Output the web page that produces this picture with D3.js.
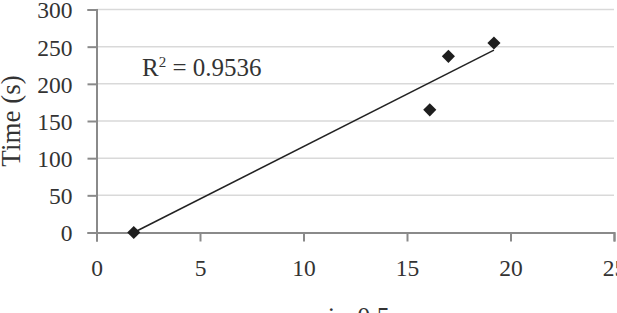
<!DOCTYPE html>
<html>
<head>
<meta charset="utf-8">
<script src="https://cdn.jsdelivr.net/npm/d3@7"></script>
<style>
  body { margin: 0; background: #fff; }
  svg { display: block; font-family: "Liberation Serif", "Times New Roman", serif; }
</style>
</head>
<body>
<div id="chart"></div>
<script>
// data
const strainRate = [1.8, 16.1, 17.0, 19.2];
const timeSec = [0, 165, 237, 255];
const xTicks = [0, 5, 10, 15, 20, 25];
const yTicks = [0, 50, 100, 150, 200, 250, 300];
const r2Label = "0.9536";

const width = 617, height = 313;
const margin = { left: 96.5, right: 3, top: 9.5, bottom: 80.5 };

const svg = d3.select("#chart").append("svg")
    .attr("width", width)
    .attr("height", height);

const x = d3.scaleLinear().domain([0, 25]).range([margin.left, width - margin.right]);
const y = d3.scaleLinear().domain([0, 300]).range([height - margin.bottom, margin.top]);

// gridlines
svg.append("g").selectAll("line")
    .data(yTicks.filter(d => d > 0))
    .join("line")
    .attr("x1", x(0)).attr("x2", x(25))
    .attr("y1", d => y(d)).attr("y2", d => y(d))
    .attr("stroke", "#d9d9d9")
    .attr("stroke-width", 1.5);

// axes
const yAxis = svg.append("g")
    .attr("transform", `translate(${x(0)},0)`)
    .call(d3.axisLeft(y).tickValues(yTicks).tickSize(9).tickPadding(15));
const xAxis = svg.append("g")
    .attr("transform", `translate(0,${y(0)})`)
    .call(d3.axisBottom(x).tickValues(xTicks).tickSize(9).tickPadding(18));

[yAxis, xAxis].forEach(g => {
    g.select(".domain").attr("stroke", "#8a8a8a").attr("stroke-width", 2);
    g.selectAll(".tick line").attr("stroke", "#8a8a8a").attr("stroke-width", 2);
    g.selectAll(".tick text")
        .attr("fill", "#333")
        .style("font-family", "Liberation Serif")
        .style("font-size", "23.5px");
});
yAxis.selectAll(".tick text").attr("dy", "0.36em");

// linear trendline (least squares from the data)
const mx = d3.mean(strainRate), my = d3.mean(timeSec);
const sxy = d3.sum(strainRate, (v, i) => (v - mx) * (timeSec[i] - my));
const sxx = d3.sum(strainRate, v => (v - mx) ** 2);
const slope = sxy / sxx, intercept = my - slope * mx;
const xMin = d3.min(strainRate), xMax = d3.max(strainRate);

svg.append("line")
    .attr("x1", x(xMin)).attr("y1", y(Math.max(0, intercept + slope * xMin)))
    .attr("x2", x(xMax)).attr("y2", y(intercept + slope * xMax))
    .attr("stroke", "#222")
    .attr("stroke-width", 1.5);

// diamond markers
const diamond = d3.symbol().type(d3.symbolDiamond2).size(110);
svg.append("g").selectAll("path")
    .data(strainRate.map((v, i) => [v, timeSec[i]]))
    .join("path")
    .attr("d", diamond)
    .attr("transform", d => `translate(${x(d[0])},${y(d[1])})`)
    .attr("fill", "#1e1e1e");

// R² label
const r2 = svg.append("text")
    .attr("x", 142).attr("y", 76)
    .attr("fill", "#333")
    .style("font-size", "25px");
r2.append("tspan").text("R");
r2.append("tspan").attr("dy", -9).style("font-size", "15px").text("2");
r2.append("tspan").attr("dy", 9).text(` = ${r2Label}`);

// axis titles
svg.append("text")
    .attr("transform", `translate(20,${y(150)}) rotate(-90)`)
    .attr("text-anchor", "middle")
    .attr("fill", "#333")
    .style("font-size", "27px")
    .text("Time (s)");

svg.append("text")
    .attr("x", 355).attr("y", 325)
    .attr("text-anchor", "middle")
    .attr("fill", "#333")
    .style("font-size", "26px")
    .text("\u03B5\u0307 \u2013 0.5");
</script>
</body>
</html>
